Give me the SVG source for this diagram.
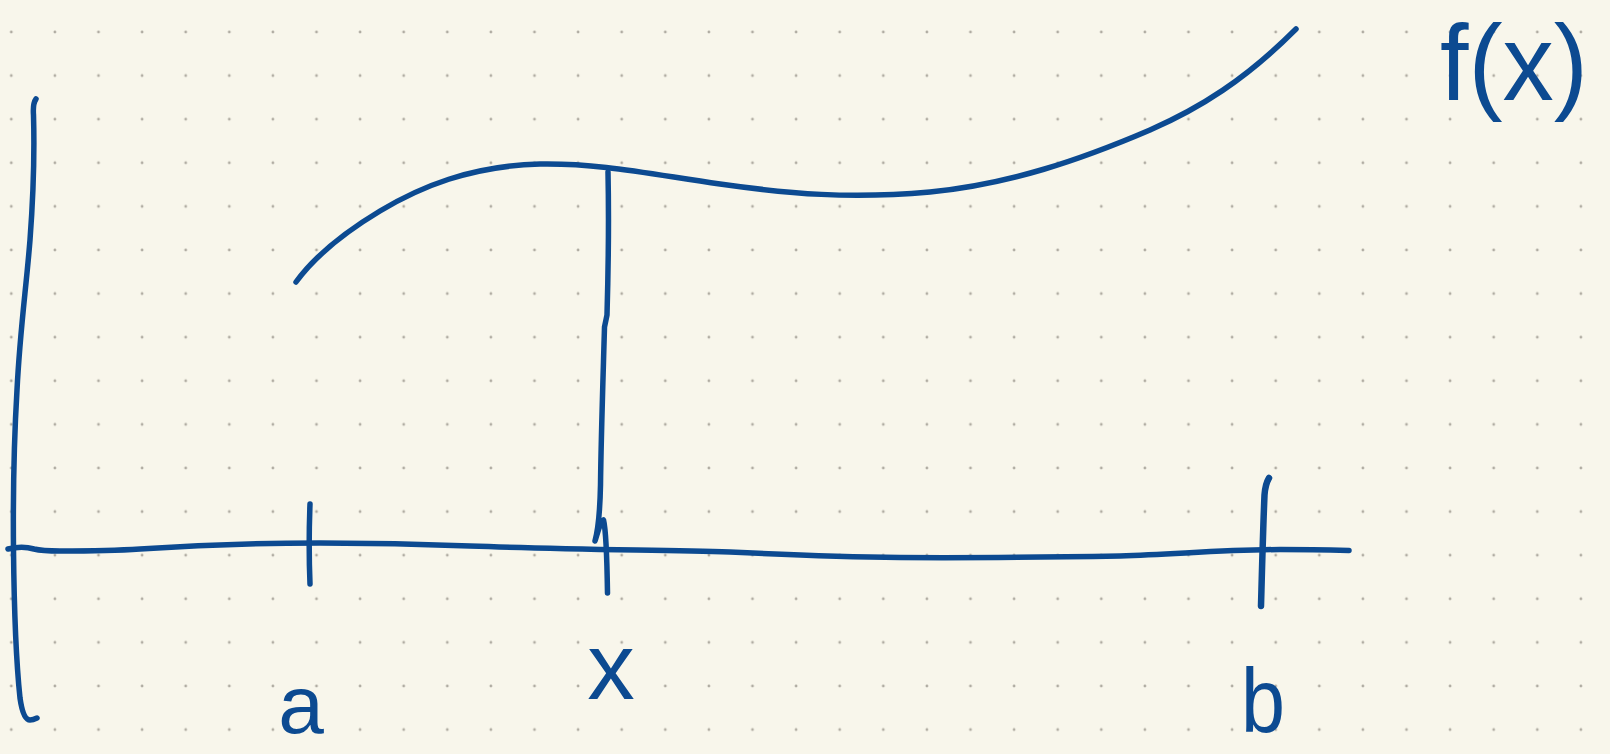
<svg xmlns="http://www.w3.org/2000/svg" width="1610" height="754" viewBox="0 0 1610 754">
  <defs>
    <pattern id="dots" patternUnits="userSpaceOnUse" x="-10.5" y="10.2" width="43.6" height="43.6">
      <circle cx="21.8" cy="21.8" r="1.4" fill="#b0aca2"/>
    </pattern>
    <style>
      .pen { fill: none; stroke: #0c4a91; stroke-width: 5.5; stroke-linecap: round; stroke-linejoin: round; }
      .lbl { fill: #0c4a91; font-family: "Liberation Sans", Arial, sans-serif; text-anchor: middle; }
    </style>
  </defs>
  <rect width="1610" height="754" fill="#f8f6eb"/>
  <rect width="1610" height="754" fill="url(#dots)"/>

  <g id="connectors">
    <path id="y-axis" class="pen" d="M36,99 C33,103 33,108 33.5,115 C34.5,150 33,200 30,240 C26,290 20,330 17,390 C14,440 13,500 13.5,550 C14,600 16,660 20,698 C22,712 25,720 30,720 C33,720 35,719 37,718"/>
    <path id="x-axis" class="pen" d="M8,549 C16,547 24,546 34,549 C42,551 48,551 60,551 C90,551 110,551 140,549 C200,545 250,543 320,543 C380,543 420,544 470,546 C560,549 650,550 730,552 C790,555 830,557 900,557.5 C980,558 1060,557 1120,556 C1180,554 1220,550 1280,549.5 C1310,549.5 1330,550 1349,550.5"/>
    <path id="curve-f" class="pen" d="M296,282 C315,256 345,232 380,211 C420,187 470,166 540,164 C600,163 650,174 720,184 C790,194 850,199 930,192 C1010,184 1080,160 1150,130 C1200,108 1245,80 1296,29"/>
    <path id="tick-a" class="pen" d="M310,504 C309,530 309,560 310,584"/>
    <path id="tick-x" class="pen" d="M608,172 C609,220 608,280 607,315 L604.5,327 C603,380 601,440 600.5,485 C600,510 598,530 595,541 C597,535 600,522 603.5,520 C606,530 607,560 607.5,593"/>
    <path id="tick-b" class="pen" style="stroke-width:6.5" d="M1269,478 C1266,483 1265,488 1264.5,495 C1263,530 1262,570 1261,606"/>
  </g>

  <g id="label-fx"><text class="lbl" x="1514" y="100" font-size="108" textLength="148" lengthAdjust="spacingAndGlyphs">f(x)</text></g>
  <g id="label-a"><text class="lbl" x="301" y="733" font-size="82">a</text></g>
  <g id="label-x"><text class="lbl" x="611" y="699" font-size="95">x</text></g>
  <g id="label-b"><text class="lbl" x="1263" y="732" font-size="90" textLength="44" lengthAdjust="spacingAndGlyphs">b</text></g>
</svg>
